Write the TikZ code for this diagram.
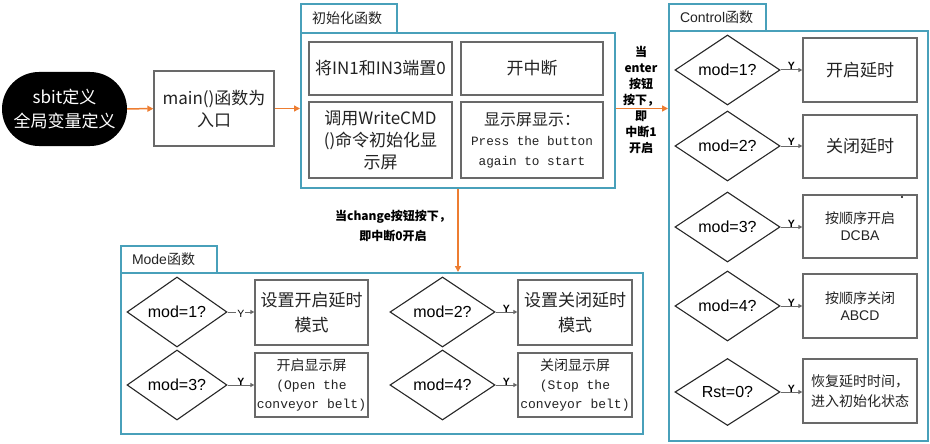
\documentclass[tikz,border=0pt]{standalone}
\usepackage{fontspec}
\setmainfont{Noto Sans CJK SC}
\newfontfamily\arialf{Liberation Sans}
\newfontfamily\monof{Liberation Mono}
\usetikzlibrary{shapes.geometric,arrows.meta}
\definecolor{teal1}{RGB}{72,160,186}
\definecolor{orng}{RGB}{237,125,49}
\definecolor{bgray}{RGB}{105,105,105}
\definecolor{txt}{RGB}{35,35,35}
\newcommand\fsz[2]{\fontsize{#1pt}{#2pt}\selectfont}
\begin{document}
\begin{tikzpicture}[x=1pt,y=-1pt,
 pbox/.style={draw=bgray, line width=1.3pt, fill=white, align=center, inner sep=1pt, text=txt},
 cont/.style={draw=teal1, line width=2pt, fill=white, inner sep=0pt, anchor=north west},
 tabbox/.style={draw=teal1, line width=2pt, fill=white, inner xsep=11pt, inner ysep=0pt, text=txt, align=left, anchor=north west, font=\fsz{14}{16}},
 dia/.style={diamond, draw=black!85, line width=1.1pt, inner sep=0pt, fill=white, font=\arialf\fsz{16}{18}},
 oarr/.style={draw=orng, line width=1.5pt, -{Triangle[length=6pt,width=6pt]}},
 yarr/.style={draw=bgray, line width=1pt, -{Triangle[length=4pt,width=4pt]}},
 ylab/.style={font=\arialf\bfseries\fsz{10.5}{11}, inner sep=0pt, text=black, above=-0.5pt},
 lab/.style={font=\bfseries\fsz{12}{16}, align=center, text=black, inner sep=0pt}
]
\useasboundingbox (0,0) rectangle (930,444);

% start and main
\node[fill=black, rounded corners=37pt, minimum width=125, minimum height=74, text=white, align=center, font=\fsz{17}{24}, inner sep=0pt] (start) at (64.5,109) {sbit定义\\全局变量定义};
\node[pbox, minimum width=120, minimum height=75, font=\fsz{17}{22}] (main) at (214,108.5) {main()函数为\\入口};

% init container
\node[tabbox, text width=74, minimum height=29] (tabI) at (300,3) {初始化函数};
\node[cont, minimum width=314, minimum height=155] (contI) at (300,32) {};
\node[pbox, minimum width=143, minimum height=53, font=\fsz{17}{22}] (i1) at (380.5,68.5) {将IN1和IN3端置0};
\node[pbox, minimum width=142, minimum height=53, font=\fsz{17}{22}] (i2) at (532,68.5) {开中断};
\node[pbox, minimum width=143, minimum height=76, font=\fsz{17}{22}] (i3) at (380.5,140) {调用WriteCMD\\()命令初始化显\\示屏};
\node[pbox, minimum width=142, minimum height=76, font=\fsz{16}{20}] (i4) at (532,140) {显示屏显示：\\{\monof\fsz{12.7}{20}Press the button}\\{\monof\fsz{12.7}{20}again to start}};

% control container
\node[tabbox, text width=75, minimum height=27] (tabC) at (668,3) {\arialf Control\rmfamily 函数};
\node[cont, minimum width=259, minimum height=410] (contC) at (668,30) {};
\foreach \n/\y/\t in {1/70/mod=1?, 2/146/mod=2?, 3/227/mod=3?, 4/306/mod=4?, 5/392/Rst=0?}{
  \node[dia, minimum width=105, minimum height=67] (cd\n) at (727.5,\y) {\t};
}
\node[pbox, minimum width=114, minimum height=64, font=\fsz{17}{22}] (cb1) at (860,70) {开启延时};
\node[pbox, minimum width=114, minimum height=63, font=\fsz{17}{22}] (cb2) at (860,146.5) {关闭延时};
\node[pbox, minimum width=114, minimum height=63, font=\fsz{14}{17}] (cb3) at (860,226.5) {按顺序开启\\{\arialf DCBA}};
\node[pbox, minimum width=114, minimum height=64, font=\fsz{14}{17}] (cb4) at (860,306) {按顺序关闭\\{\arialf ABCD}};
\node[pbox, minimum width=114, minimum height=64, font=\fsz{14}{20}] (cb5) at (860,391) {恢复延时时间，\\进入初始化状态};
\foreach \n in {1,...,5}{
  \draw[yarr] (cd\n.east) -- node[ylab]{Y} (cd\n.east -| cb\n.west);
}
\fill[black] (902,197) circle (1.2);

% mode container
\node[tabbox, text width=74, minimum height=27] (tabM) at (120,245) {\arialf Mode\rmfamily 函数};
\node[cont, minimum width=522, minimum height=161] (contM) at (120,272) {};
\node[dia, minimum width=100, minimum height=66] (md1) at (177,312) {mod=1?};
\node[dia, minimum width=100, minimum height=66] (md3) at (177,385) {mod=3?};
\node[dia, minimum width=105, minimum height=66] (md2) at (442.5,312) {mod=2?};
\node[dia, minimum width=105, minimum height=66] (md4) at (442.5,385) {mod=4?};
\node[pbox, minimum width=113, minimum height=65, font=\fsz{17}{25}] (mb1) at (311.5,312.5) {设置开启延时\\模式};
\node[pbox, minimum width=113, minimum height=64, font=\fsz{14}{19}] (mb3) at (311.5,385) {开启显示屏\\{\monof\fsz{13}{19}(Open the}\\{\monof\fsz{13}{19}conveyor belt)}};
\node[pbox, minimum width=114, minimum height=65, font=\fsz{17}{25}] (mb2) at (575,312.5) {设置关闭延时\\模式};
\node[pbox, minimum width=114, minimum height=64, font=\fsz{14}{19}] (mb4) at (575,385) {关闭显示屏\\{\monof\fsz{13}{19}(Stop the}\\{\monof\fsz{13}{19}conveyor belt)}};
\draw[yarr] (md1.east) -- node[ylab, font=\arialf\fsz{10.5}{11}, fill=white, inner xsep=1pt, above=-5pt]{Y} (md1.east -| mb1.west);
\draw[yarr] (md3.east) -- node[ylab]{Y} (md3.east -| mb3.west);
\draw[yarr] (md2.east) -- node[ylab]{Y} (md2.east -| mb2.west);
\draw[yarr] (md4.east) -- node[ylab]{Y} (md4.east -| mb4.west);

% main flow arrows
\draw[oarr] (start) -- (main);
\draw[oarr] (main) -- (main -| contI.west);
\draw[oarr] (contI.east |- main) -- (main -| contC.west);
\draw[oarr] (contI.south) -- (contI.south |- contM.north);

% labels
\node[lab, anchor=south] (l1) at (641,107) {当\\enter\\按钮\\按下，};
\node[lab, anchor=north] (l2) at (641,111) {即\\中断1\\开启};
\node[lab, font=\bfseries\fsz{12}{20}] (l3) at (393,226) {当change按钮按下，\\即中断0开启};
\end{tikzpicture}
\end{document}
